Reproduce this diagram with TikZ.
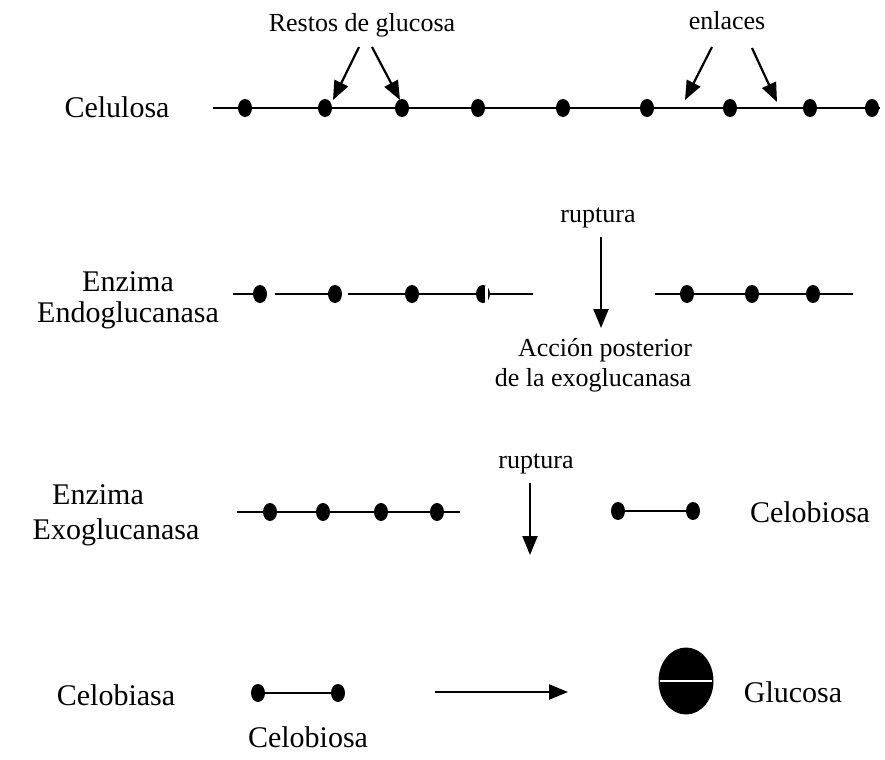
\documentclass[tikz,border=0pt]{standalone}
\usepackage{fontspec}
\setmainfont{Liberation Serif}
\usetikzlibrary{arrows.meta,shapes.geometric}
\tikzset{
  bead/.style={ellipse, fill=black, inner sep=0pt, minimum width=7pt, minimum height=9pt},
  rotulo/.style={font=\fontsize{15}{18}\selectfont, anchor=base, inner sep=0pt},
  nota/.style={font=\fontsize{13}{15}\selectfont, anchor=base, inner sep=0pt},
  flecha/.style={line width=1.1pt, -{Triangle[length=9.5pt, width=7.5pt]}},
  cadena/.style={line width=1.2pt}
}
\begin{document}
\begin{tikzpicture}[x=0.5pt, y=-0.5pt]
  \useasboundingbox (0,0) rectangle (885,760);
  \node[rotulo] (celulosa) at (117,117) {Celulosa};
  \coordinate (c0) at (213,108);
  \coordinate (c10) at (880,108);
  \draw[cadena] (c0) -- (c10);
  \foreach \x [count=\i] in {245,325,402,478,563,647,730,810,872}
    \node[bead] (c\i) at (\x,108) {};
  \node[nota] (restos) at (362,32) {Restos de glucosa};
  \node[nota] (enlaces) at (727,30) {enlaces};
  \coordinate (r1) at (359,47);
  \coordinate (r2) at (372,47);
  \coordinate (l1) at (712,47);
  \coordinate (l2) at (752,48);
  \coordinate (rt1) at (333,100);
  \coordinate (rt2) at (400,100);
  \coordinate (lt1) at (685,100);
  \coordinate (lt2) at (777,102);
  \draw[flecha] (r1) -- (rt1);
  \draw[flecha] (r2) -- (rt2);
  \draw[flecha] (l1) -- (lt1);
  \draw[flecha] (l2) -- (lt2);

  \node[rotulo] (enzima1) at (128,291) {Enzima};
  \node[rotulo] (endo) at (128,322) {Endoglucanasa};
  \coordinate (e0) at (233,294);
  \coordinate (e1b) at (275,294);
  \coordinate (e2b) at (348,294);
  \coordinate (e5) at (533,294);
  \foreach \x [count=\i] in {260,335,412,483}
    \node[bead] (e\i) at (\x,294) {};
  \draw[cadena] (e0) -- (e1);
  \draw[cadena] (e1b) -- (e2);
  \draw[cadena] (e2b) -- (e5);
  \fill[white] (485,286) rectangle (488,303);
  \coordinate (f0) at (655,294);
  \coordinate (f4) at (853,294);
  \draw[cadena] (f0) -- (f4);
  \foreach \x [count=\i] in {687,752,813}
    \node[bead] (f\i) at (\x,294) {};
  \node[nota] (rup1) at (598,222) {ruptura};
  \coordinate (a1) at (601,237);
  \coordinate (b1) at (601,328);
  \draw[flecha] (a1) -- (b1);
  \node[nota] (accion) at (605,356) {Acción posterior};
  \node[nota] (exoglu) at (593,386) {de la exoglucanasa};

  \node[rotulo] (enzima2) at (98,504) {Enzima};
  \node[rotulo] (exo) at (116,539) {Exoglucanasa};
  \coordinate (g0) at (237,512);
  \coordinate (g5) at (460,512);
  \draw[cadena] (g0) -- (g5);
  \foreach \x [count=\i] in {270,323,381,437}
    \node[bead] (g\i) at (\x,512) {};
  \node[nota] (rup2) at (536,468) {ruptura};
  \coordinate (a2) at (530,483);
  \coordinate (b2) at (530,555);
  \draw[flecha] (a2) -- (b2);
  \node[bead] (h1) at (618,511) {};
  \node[bead] (h2) at (693,511) {};
  \draw[cadena] (h1) -- (h2);
  \node[rotulo] (celob1) at (810,522) {Celobiosa};

  \node[rotulo] (celobiasa) at (116,705) {Celobiasa};
  \node[bead] (k1) at (258,693) {};
  \node[bead] (k2) at (338,693) {};
  \draw[cadena] (k1) -- (k2);
  \node[rotulo] (celob2) at (308,747) {Celobiosa};
  \coordinate (a3) at (435,692);
  \coordinate (b3) at (568,692);
  \draw[flecha] (a3) -- (b3);
  \node[ellipse, fill=black, inner sep=0pt, minimum width=27.5pt, minimum height=33.5pt] (gluc) at (686,681) {};
  \draw[white, line width=0.6pt] ([xshift=1pt]gluc.west) -- ([xshift=-1pt]gluc.east);
  \node[rotulo] (glucosa) at (793,702) {Glucosa};
\end{tikzpicture}
\end{document}
